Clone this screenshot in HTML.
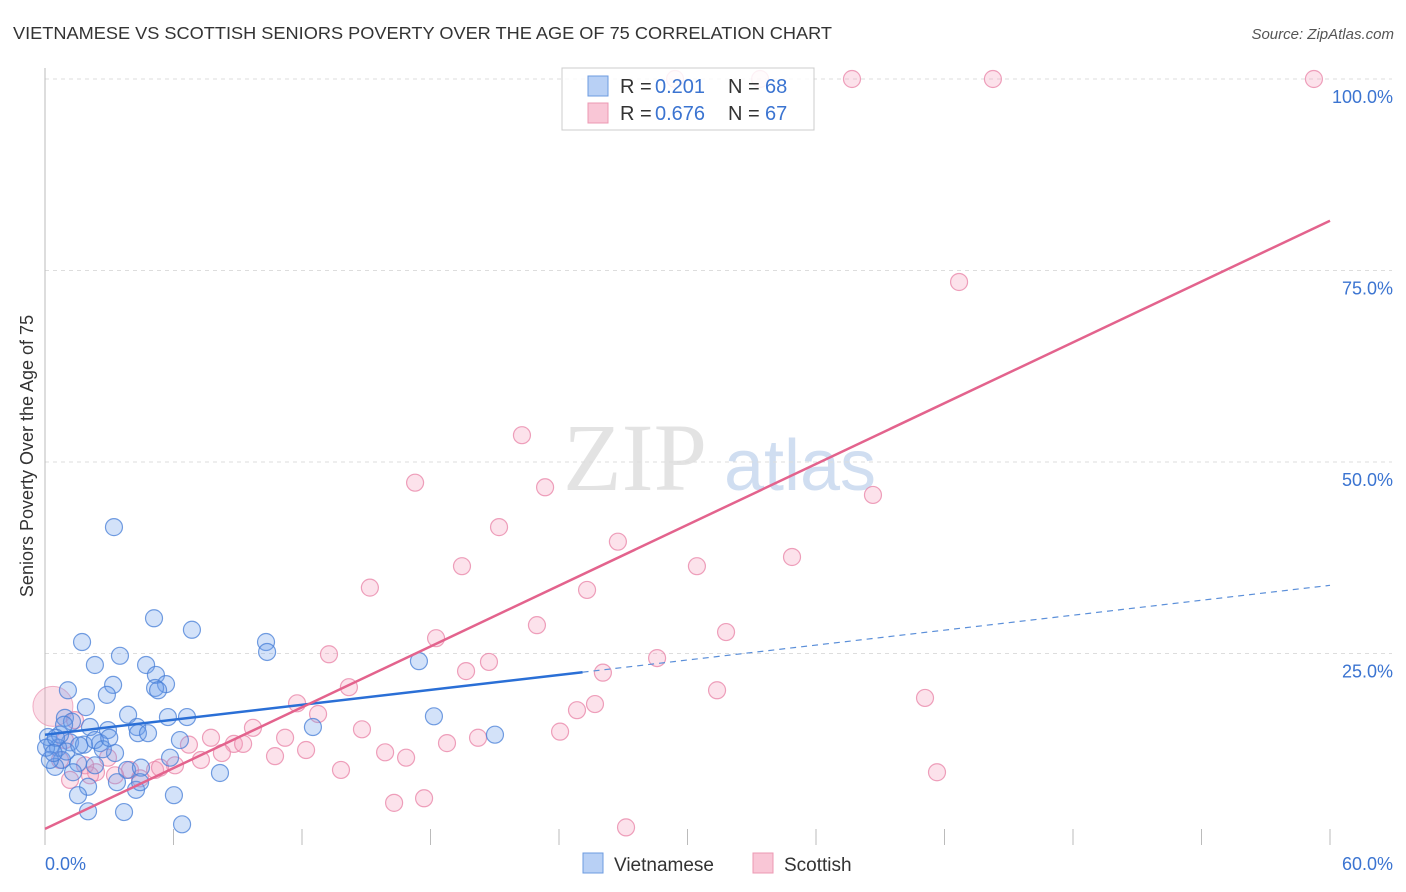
<!DOCTYPE html>
<html><head><meta charset="utf-8">
<style>
body{margin:0;background:#fff;font-family:"Liberation Sans",sans-serif;}
svg{display:block}
</style></head>
<body>
<svg id="chart" width="1406" height="892" viewBox="0 0 1406 892" xmlns="http://www.w3.org/2000/svg">
<text x="13" y="39" font-size="17.5" fill="#333" textLength="819" lengthAdjust="spacingAndGlyphs">VIETNAMESE VS SCOTTISH SENIORS POVERTY OVER THE AGE OF 75 CORRELATION CHART</text>
<text x="1394" y="39" font-size="15" font-style="italic" fill="#555" text-anchor="end">Source: ZipAtlas.com</text>
<text transform="translate(33,456) rotate(-90)" font-size="18" fill="#333" text-anchor="middle">Seniors Poverty Over the Age of 75</text>
<g>
<text x="635" y="490" font-size="96" font-family="Liberation Serif,serif" fill="#ddd" text-anchor="middle" opacity="0.8">ZIP</text>
<text x="800" y="490" font-size="72" fill="#c5d6ee" text-anchor="middle" opacity="0.8">atlas</text>
</g>
<g id="grid"></g>
<g id="axes"></g>
<g id="points"></g>
<g id="lines"></g>
<g>
<rect x="562" y="68" width="252" height="62" fill="rgba(255,255,255,0.85)" stroke="#ccc"/>
<rect x="588" y="76" width="20" height="20" fill="#b8d0f5" stroke="#6c9be0"/>
<rect x="588" y="103" width="20" height="20" fill="#f9c6d6" stroke="#ec98b3"/>
<text x="620" y="93" font-size="20" fill="#333">R =</text>
<text x="655" y="93" font-size="20" fill="#3b74d1">0.201</text>
<text x="728" y="93" font-size="20" fill="#333">N =</text>
<text x="765" y="93" font-size="20" fill="#3b74d1">68</text>
<text x="620" y="120" font-size="20" fill="#333">R =</text>
<text x="655" y="120" font-size="20" fill="#3b74d1">0.676</text>
<text x="728" y="120" font-size="20" fill="#333">N =</text>
<text x="765" y="120" font-size="20" fill="#3b74d1">67</text>
</g>
<g>
<rect x="583" y="853" width="20" height="20" fill="#b8d0f5" stroke="#6c9be0"/>
<text x="614" y="871" font-size="19" fill="#333">Vietnamese</text>
<rect x="753" y="853" width="20" height="20" fill="#f9c6d6" stroke="#ec98b3"/>
<text x="784" y="871" font-size="19" fill="#333">Scottish</text>
</g>
</svg>
<script>
const yTicks=[25,50,75,100];
const yTickLabels=["25.0%","50.0%","75.0%","100.0%"];
const xTicks=[0,6,12,18,24,30,36,42,48,54,60];
const xEndLabels=["0.0%","60.0%"];
const vietX=[3.22,1.73,5.09,6.86,10.32,10.37,2.33,3.50,4.72,1.07,3.18,5.18,5.65,5.14,5.28,2.89,1.91,17.46,18.16,21.01,12.51,6.63,5.74,3.88,0.93,1.26,2.10,2.94,4.30,4.34,4.81,6.30,1.17,0.33,0.61,0.14,0.70,2.57,1.82,3.27,0.79,1.54,2.33,0.47,0.23,1.31,3.83,4.48,5.84,8.17,3.36,4.25,4.44,2.01,1.54,6.02,2.01,3.69,6.40,0.05,2.33,0.89,0.51,2.7,1.0,0.4,1.6,3.0];
const vietY=[41.5,26.5,29.6,28.1,26.5,25.2,23.5,24.7,23.5,20.2,20.9,22.2,21.0,20.5,20.2,19.6,18.0,24.0,16.8,14.4,15.4,16.7,16.7,17.0,16.6,16.1,15.4,15.0,15.4,14.6,14.6,13.7,13.4,13.1,12.7,14.1,14.4,13.3,13.1,12.0,11.1,10.7,10.4,10.2,11.1,9.5,9.8,10.1,11.4,9.4,8.2,7.2,8.2,7.6,6.5,6.5,4.4,4.3,2.7,12.7,13.7,15.7,14.0,12.5,12.2,12.0,13.0,14.0];
const scotX=[22.27,17.28,23.35,21.2,26.75,19.47,30.44,34.88,15.17,25.31,22.97,31.8,18.26,13.26,28.58,20.73,19.66,26.05,14.19,31.38,11.77,25.68,24.84,41.09,9.71,14.8,24.05,12.75,7.75,11.21,6.72,8.82,9.25,18.77,20.22,12.19,15.88,16.86,10.74,8.26,7.28,13.82,41.65,16.3,17.7,27.13,38.66,42.68,2.94,3.97,5.14,6.07,2.38,3.27,1.87,0.93,1.4,0.7,1.17,2.1,4.44,5.37,29.42,33.39,37.68,44.26,59.25];
const scotY=[53.5,47.3,46.7,41.5,39.6,36.4,36.4,37.6,33.6,33.3,28.7,27.8,27.0,24.9,24.4,23.9,22.7,22.5,20.6,20.2,18.5,18.4,17.6,19.2,15.3,15.1,14.8,17.1,14.0,14.0,13.1,13.2,13.2,13.3,14.0,12.4,12.1,11.4,11.6,12.0,11.1,9.8,9.5,5.5,6.1,2.3,45.7,73.5,11.4,9.8,9.8,10.4,9.5,9.1,10.4,13.7,16.3,11.1,8.5,9.1,8.7,10.1,100,100,100,100,100];
const bigScot=[0.37,18.1];
const vietTrend=[14.4,33.9];
const vietSolidEnd=25.1;
const scotTrend=[2.1,81.5];

const NS="http://www.w3.org/2000/svg";
const X0=45,X1=1330,Y0=845,Y100=79;
const sx=v=>X0+(v/60)*(X1-X0);
const sy=v=>Y0-(v/100)*(Y0-Y100);
function mk(tag,attrs,parent){const e=document.createElementNS(NS,tag);for(const k in attrs)e.setAttribute(k,attrs[k]);parent.appendChild(e);return e;}
const grid=document.getElementById('grid'),axes=document.getElementById('axes'),pts=document.getElementById('points'),lines=document.getElementById('lines');
yTicks.forEach((t,i)=>{
 const l=mk('line',{x1:X0,x2:1392,y1:sy(t),y2:sy(t),stroke:'#ddd','stroke-dasharray':'4,4'},grid);
 
 
 const tx=mk('text',{x:1393,y:sy(t)+24,'font-size':18,fill:'#3b74d1','text-anchor':'end'},axes);
 tx.textContent=yTickLabels[i];
 
 
});
const ya=mk('line',{x1:X0,x2:X0,y1:68,y2:Y0,stroke:'#bbb'},axes);


xTicks.forEach(t=>{
 const l=mk('line',{x1:sx(t),x2:sx(t),y1:829,y2:Y0,stroke:'#bbb'},axes);
 
 
});
const xl0=mk('text',{x:45,y:870,'font-size':18,fill:'#3b74d1'},axes);xl0.textContent=xEndLabels[0];


const xl1=mk('text',{x:1393,y:870,'font-size':18,fill:'#3b74d1','text-anchor':'end'},axes);xl1.textContent=xEndLabels[1];


const bs=mk('circle',{cx:sx(bigScot[0]),cy:sy(bigScot[1]),r:20,fill:'rgba(240,150,180,0.3)',stroke:'rgba(232,130,165,0.6)'},pts);


scotX.forEach((x,i)=>{
 const c=mk('circle',{cx:sx(x),cy:sy(scotY[i]),r:8.5,fill:'rgba(244,160,188,0.3)',stroke:'rgba(232,130,165,0.75)','stroke-width':1.2},pts);
 
 
});
vietX.forEach((x,i)=>{
 const c=mk('circle',{cx:sx(x),cy:sy(vietY[i]),r:8.5,fill:'rgba(110,160,235,0.3)',stroke:'rgba(70,125,215,0.75)','stroke-width':1.2},pts);
 
 
});
const vy=x=>vietTrend[0]+(vietTrend[1]-vietTrend[0])*x/60;
const l1=mk('line',{x1:sx(0),y1:sy(vy(0)),x2:sx(vietSolidEnd),y2:sy(vy(vietSolidEnd)),stroke:'#2a6fd6','stroke-width':2.5},lines);


const l2=mk('line',{x1:sx(vietSolidEnd),y1:sy(vy(vietSolidEnd)),x2:sx(60),y2:sy(vy(60)),stroke:'#5b8fd9','stroke-width':1.2,'stroke-dasharray':'6,5'},lines);


const l3=mk('line',{x1:sx(0),y1:sy(scotTrend[0]),x2:sx(60),y2:sy(scotTrend[1]),stroke:'#e3638d','stroke-width':2.5},lines);


</script>
</body></html>
